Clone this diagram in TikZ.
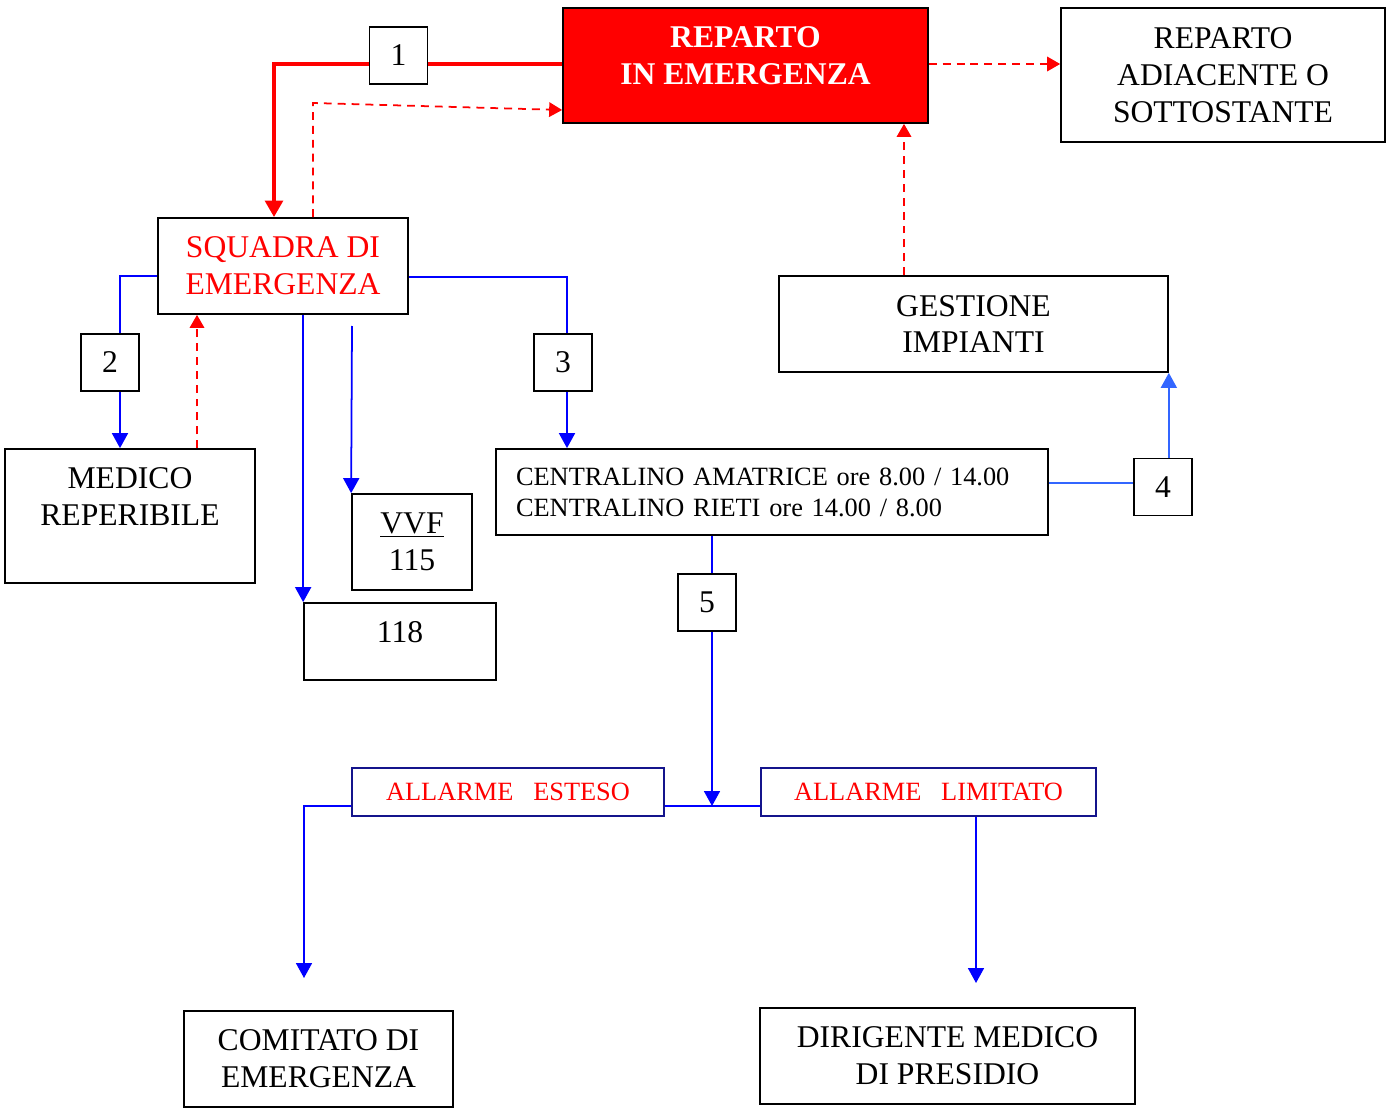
\documentclass[tikz,border=0pt]{standalone}
\usepackage{fontspec}
\setmainfont{Liberation Serif}
\usepackage{xcolor}
\usetikzlibrary{arrows.meta,calc,positioning}
\definecolor{navyline}{RGB}{20,20,140}
\definecolor{paleblue}{RGB}{51,102,255}
\tikzset{
  sz/.style 2 args={minimum width=#1*0.2mm, minimum height=#2*0.2mm},
  box/.style={draw, line width=1pt, inner sep=0pt, align=center, font=\fontsize{18}{21}\selectfont},
  numbox/.style={box, sz={58}{57}},
  alarmbox/.style={draw=navyline, line width=1pt, inner sep=0pt, text=red, font=\fontsize{15}{17.6}\selectfont},
  redpath/.style={red, line width=2.8pt},
  redtip/.style={-{Triangle[length=3.3mm,width=3.5mm]}},
  reddash/.style={red, line width=1pt, dash pattern=on 4.5pt off 3.4pt, -{Triangle[length=2.6mm,width=2.9mm]}},
  bluepath/.style={blue, line width=1pt},
  palepath/.style={paleblue, line width=1pt},
  bluetip/.style={-{Triangle[length=3mm,width=3.2mm]}}
}
\begin{document}
\begin{tikzpicture}[x=0.02cm, y=-0.02cm]
    \useasboundingbox (0,0) rectangle (1386,1108);

    % Top row
    \node[box, sz={365}{115}, fill=red, text=white, font=\bfseries\fontsize{18}{21}\selectfont] (rep) at (745.5,65.5) {REPARTO\\IN EMERGENZA\\[-10pt]\mbox{}};
    \node[box, sz={324}{134}] (adj) at (1223,75) {REPARTO\\ADIACENTE O\\SOTTOSTANTE};
    \node[numbox] (n1) at (398.5,55.5) {1};

    % Squadra and calls
    \node[box, sz={250}{96}, text=red] (sq) at (283,266) {SQUADRA DI\\EMERGENZA};
    \node[numbox] (n2) at (110,362.5) {2};
    \node[numbox] (n3) at (563,362.5) {3};
    \node[box, sz={250}{134}] (med) at (130,516) {MEDICO\\REPERIBILE\\[1pt]\mbox{}};
    \node[box, sz={120}{96}] (vvf) at (412,542) {\underline{VVF}\\115};
    \node[box, sz={192}{77}] (n118) at (400,641.5) {118\\[-10pt]\mbox{}};

    % Centralino
    \node[box, sz={552}{86}, align=left, text width=512*0.2mm, font=\fontsize{15}{17.6}\selectfont] (cen) at (772,492) {CENTRALINO AMATRICE ore 8.00 / 14.00\\CENTRALINO RIETI ore 14.00 / 8.00};
    \node[box, sz={389}{96}] (ges) at (973.5,324) {GESTIONE\\IMPIANTI};
    \node[numbox] (n4) at (1163,487) {4};
    \node[numbox] (n5) at (707,602.5) {5};

    % Allarmi
    \node[alarmbox, sz={312}{48}] (est) at (508,792) {ALLARME\ \ \ ESTESO};
    \node[alarmbox, sz={335}{48}] (lim) at (928.5,792) {ALLARME\ \ \ LIMITATO};
    \node[box, sz={269}{96}] (com) at (318.5,1059) {COMITATO DI\\EMERGENZA};
    \node[box, sz={375}{96}] (dir) at (947.5,1056) {DIRIGENTE MEDICO\\DI PRESIDIO};

    % Red links
    \coordinate (k1) at (274,64);
    \draw[redpath] (rep.west |- k1) -- (n1.east |- k1);
    \draw[redpath, redtip] (n1.west |- k1) -- (k1) -- (k1 |- sq.north);
    \coordinate (k2) at (313,103);
    \coordinate (k2b) at (0,110);
    \draw[reddash] (k2 |- sq.north) -- (k2) -- (rep.west |- k2b);
    \draw[reddash] (rep.east |- k1) -- (adj.west |- k1);
    \coordinate (k3) at (904,0);
    \draw[reddash] (k3 |- ges.north) -- (k3 |- rep.south);
    \coordinate (k4) at (197,0);
    \draw[reddash] (k4 |- med.north) -- (k4 |- sq.south);

    % Blue links
    \coordinate (k5) at (120,276);
    \draw[bluepath] (sq.west |- k5) -- (k5) -- (k5 |- n2.north);
    \draw[bluepath, bluetip] (k5 |- n2.south) -- (k5 |- med.north);
    \coordinate (k6) at (567,277);
    \draw[bluepath] (sq.east |- k6) -- (k6) -- (k6 |- n3.north);
    \draw[bluepath, bluetip] (k6 |- n3.south) -- (k6 |- cen.north);
    \draw[bluepath, bluetip] (n118.north west |- sq.south) -- (n118.north west);
    \coordinate (k7) at (352,326);
    \draw[bluepath, bluetip] (k7) -- (vvf.north west);
    \coordinate (k8) at (0,483);
    \draw[palepath] (cen.east |- k8) -- (n4.west |- k8);
    \draw[palepath, bluetip] (ges.south east |- n4.north) -- (ges.south east);
    \coordinate (k9) at (712,806);
    \draw[bluepath] (k9 |- cen.south) -- (k9 |- n5.north);
    \draw[bluepath, bluetip] (k9 |- n5.south) -- (k9);
    \draw[bluepath] (est.east |- k9) -- (lim.west |- k9);
    \coordinate (k10) at (304,978);
    \draw[bluepath, bluetip] (est.west |- k9) -| (k10);
    \coordinate (k11) at (976,983);
    \draw[bluepath, bluetip] (k11 |- lim.south) -- (k11);

\end{tikzpicture}
\end{document}
